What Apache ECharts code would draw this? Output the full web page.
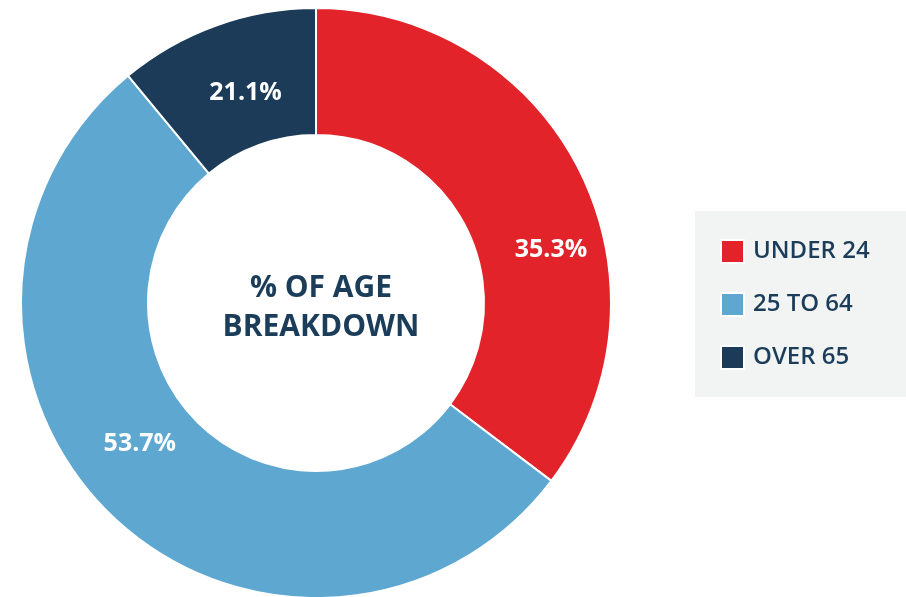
<!DOCTYPE html>
<html>
<head>
<meta charset="utf-8">
<script src="https://cdn.jsdelivr.net/npm/echarts@6/dist/echarts.min.js"></script>
<style>
  html, body { margin: 0; padding: 0; background: #fff; }
  #chartPie { width: 906px; height: 597px; }
</style>
</head>
<body>
<div id="chartPie"></div>
<script>
// data
const categories = ['UNDER 24', '25 TO 64', 'OVER 65']
const values = [35.3, 53.7, 11.0]
const labelTexts = ['35.3%', '53.7%', '21.1%'] // printed labels as in the source
const colors = ['#e2232a', '#5ea7d1', '#1b3b58']
const legendColors = ['#e2232a', '#5ea7d1', '#2c4b66']

// nudges for the value labels relative to the slice middle
const labelNudge = [[25, 51], [-14, -29], [9, 11]]

const navy = '#1b3d5a'
const font = '"Open Sans", "Noto Sans", sans-serif'

const myChart = echarts.init(document.getElementById('chartPie'))
const option = {
  animation: false,
  color: legendColors,
  graphic: [
    {
      type: 'rect',
      left: 695,
      top: 211,
      shape: { width: 211, height: 186 },
      style: { fill: '#f2f4f4' },
      z: 0
    }
  ],
  title: {
    text: '% OF AGE\nBREAKDOWN',
    left: 316,
    top: 303,
    textAlign: 'center',
    textVerticalAlign: 'middle',
    textStyle: {
      color: navy,
      fontSize: 30,
      fontWeight: 'bold',
      fontFamily: font,
      lineHeight: 39
    }
  },
  legend: {
    orient: 'vertical',
    left: 720,
    top: 239,
    padding: 0,
    itemWidth: 23,
    itemHeight: 23,
    itemGap: 28,
    icon: 'rect',
    data: categories,
    textStyle: {
      color: navy,
      fontSize: 24,
      fontWeight: 600,
      fontFamily: font,
      padding: [0, 0, 0, 4]
    },
    z: 5
  },
  series: [
    {
      type: 'pie',
      center: [316, 303],
      radius: [168, 295],
      startAngle: 90,
      clockwise: true,
      avoidLabelOverlap: false,
      itemStyle: {
        borderColor: '#fff',
        borderWidth: 2
      },
      label: {
        show: true,
        position: 'inside',
        color: '#fff',
        fontSize: 25,
        fontWeight: 'bold',
        fontFamily: font,
        formatter: (p) => labelTexts[p.dataIndex]
      },
      labelLayout: (p) => ({ dx: labelNudge[p.dataIndex][0], dy: labelNudge[p.dataIndex][1] }),
      emphasis: { disabled: true },
      data: categories.map((name, i) => ({
        name: name,
        value: values[i],
        itemStyle: { color: colors[i] }
      }))
    }
  ]
}
myChart.setOption(option)
window.addEventListener('resize', () => {
  myChart.resize()
})
</script>
</body>
</html>
